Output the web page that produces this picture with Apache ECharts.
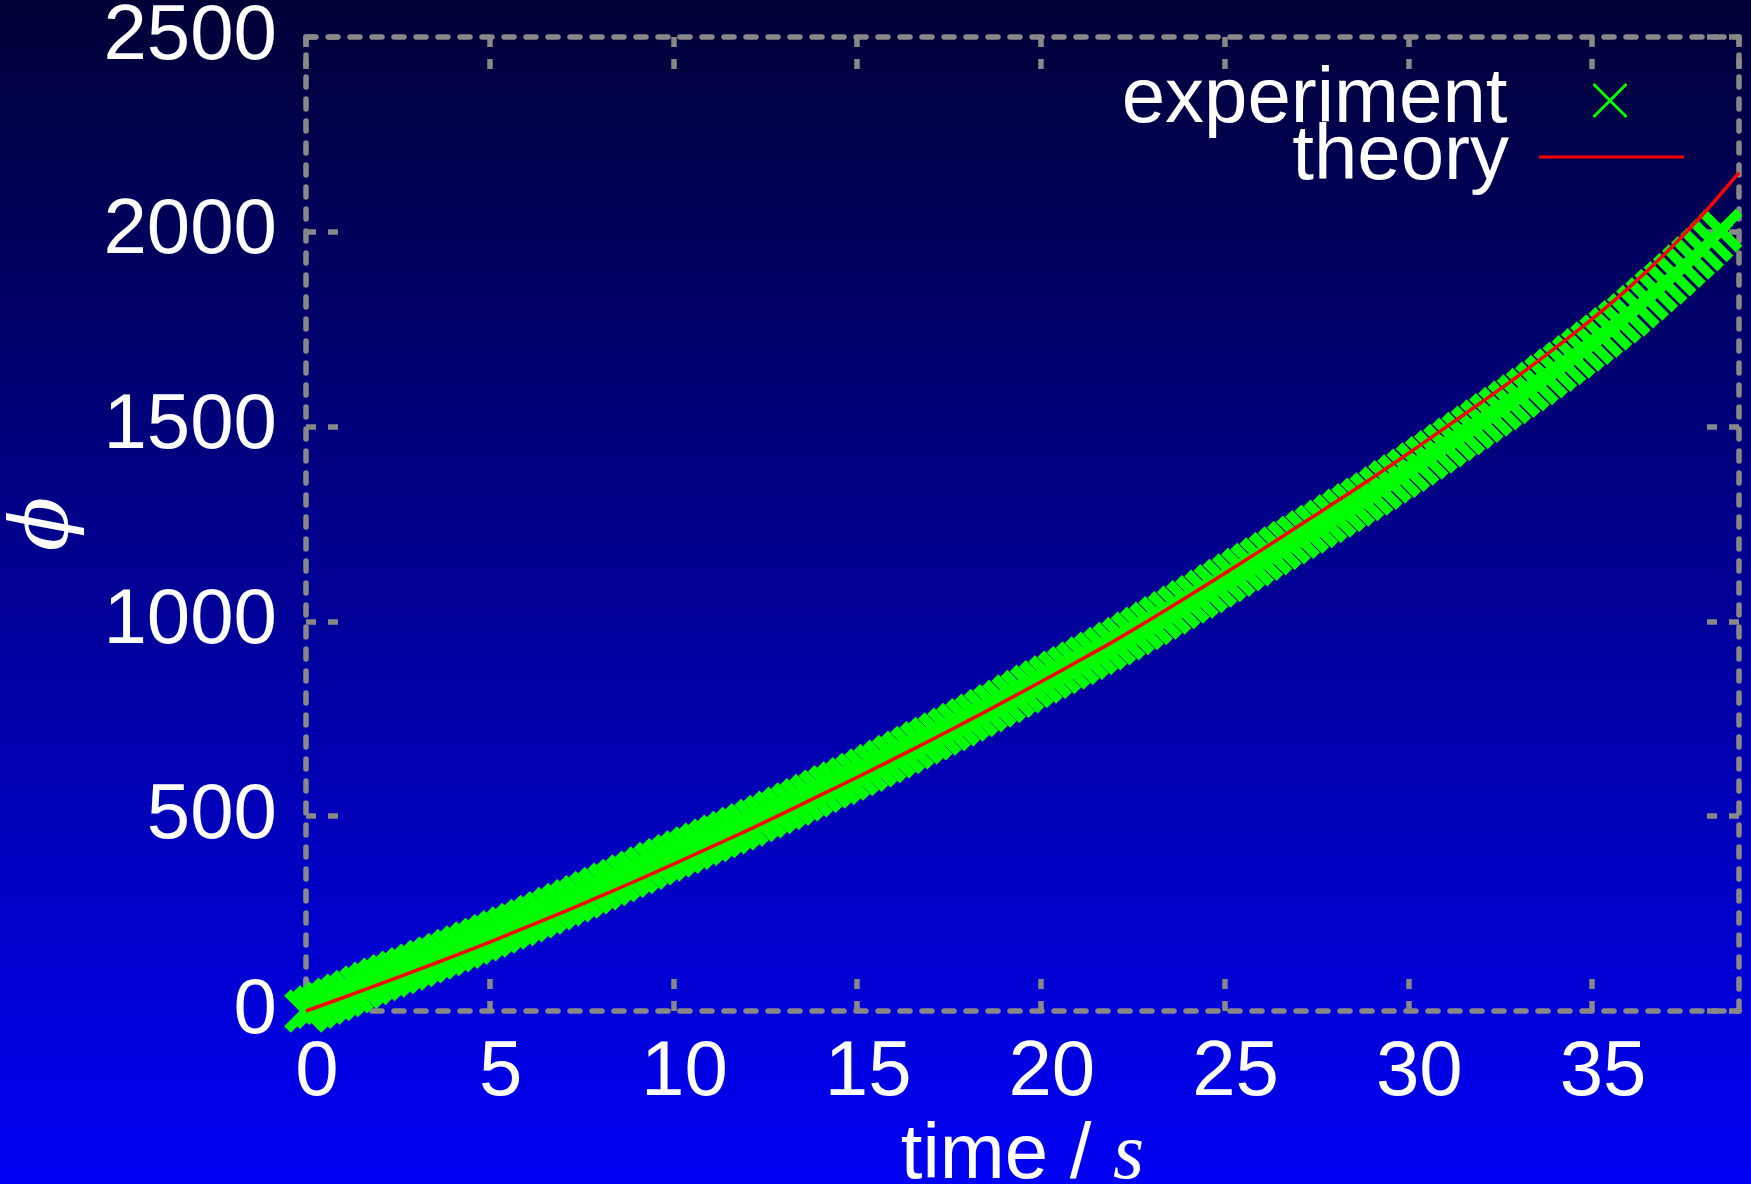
<!DOCTYPE html>
<html>
<head>
<meta charset="utf-8">
<style>
html,body{margin:0;padding:0;background:#000080;}
#chart{width:1751px;height:1184px;}
</style>
<script src="https://cdn.jsdelivr.net/npm/echarts@6/dist/echarts.min.js"></script>
</head>
<body>
<div id="chart"></div>
<script>
// ---- data ----
const xTicks = [0, 5, 10, 15, 20, 25, 30, 35];
const yTicks = [0, 500, 1000, 1500, 2000, 2500];

const theoryTime = [0,1,2,3,4,5,6,7,8,9,10,11,12,13,14,15,16,17,18,19,20,21,22,23,24,25,26,27,28,29,30,31,32,33,34,35,36,37,38,39];
const theoryPhi  = [0,34,69,104,140,177,215,254,294,335,377,420,463,508,554,600,647,695,744,794,845,897,950,1006,1064,1123,1183,1244,1305,1367,1431,1497,1563,1631,1702,1776,1856,1945,2043,2152];

const experimentTime = [
0,0.25,0.5,0.75,1,1.25,1.5,1.75,2,2.25,2.5,2.75,3,3.25,3.5,3.75,4,4.25,4.5,4.75,
5,5.25,5.5,5.75,6,6.25,6.5,6.75,7,7.25,7.5,7.75,8,8.25,8.5,8.75,9,9.25,9.5,9.75,
10,10.25,10.5,10.75,11,11.25,11.5,11.75,12,12.25,12.5,12.75,13,13.25,13.5,13.75,14,14.25,14.5,14.75,
15,15.25,15.5,15.75,16,16.25,16.5,16.75,17,17.25,17.5,17.75,18,18.25,18.5,18.75,19,19.25,19.5,19.75,
20,20.25,20.5,20.75,21,21.25,21.5,21.75,22,22.25,22.5,22.75,23,23.25,23.5,23.75,24,24.25,24.5,24.75,
25,25.25,25.5,25.75,26,26.25,26.5,26.75,27,27.25,27.5,27.75,28,28.25,28.5,28.75,29,29.25,29.5,29.75,
30,30.25,30.5,30.75,31,31.25,31.5,31.75,32,32.25,32.5,32.75,33,33.25,33.5,33.75,34,34.25,34.5,34.75,
35,35.25,35.5,35.75,36,36.25,36.5,36.75,37,37.25,37.5,37.75,38,38.25,38.5];
const experimentPhi = [
0,10,20,30,40,50,61,71,81,90,99,108,117,127,136,145,155,164,174,183,
193,203,213,222,232,242,252,263,273,283,293,304,314,325,335,346,356,367,378,388,
398,408,418,428,438,448,458,468,478,489,499,510,520,531,542,553,564,575,585,596,
607,618,630,641,653,664,676,688,699,711,723,735,747,759,771,783,795,808,820,833,
845,857,869,881,893,906,918,930,943,956,969,982,995,1009,1022,1036,1050,1063,1077,1091,
1105,1119,1133,1146,1160,1174,1188,1202,1216,1230,1244,1257,1271,1285,1299,1313,1327,1342,1358,1373,
1388,1404,1420,1435,1451,1467,1482,1498,1514,1530,1546,1562,1578,1595,1611,1628,1645,1662,1679,1697,
1714,1732,1751,1769,1787,1808,1828,1849,1869,1890,1912,1933,1954,1978,2003];

// ---- chart ----
const SANS = "'Liberation Sans', Arial, Helvetica, sans-serif";
const SERIF = "'Liberation Serif', 'DejaVu Serif', serif";
const FRAME = '#888888';
const CROSS = 'path://M0,0L10,10M10,0L0,10';
const BAR = 'path://M0,0L145,0L145,3L0,3Z';

const frameLine = {show: true, onZero: false, lineStyle: {color: FRAME, width: 5.5, type: [10, 12]}};
const frameTick = {show: true, inside: true, length: 34, lineStyle: {color: FRAME, width: 5.5, type: [10, 12]}};

const legendBase = {
  orient: 'vertical', padding: 0, align: 'right',
  itemWidth: 145, itemHeight: 33, itemGap: 0,
  textStyle: {color: '#ffffff', fontSize: 78, fontFamily: SANS, padding: [0, 25, 16, 0]}
};

const chart = echarts.init(document.getElementById('chart'), null, {renderer: 'canvas'});
chart.setOption({
  animation: false,
  backgroundColor: {
    type: 'linear', x: 0, y: 0, x2: 0, y2: 1,
    colorStops: [{offset: 0, color: '#000036'}, {offset: 1, color: '#0000f4'}]
  },
  grid: {left: 306, right: 12, top: 37, bottom: 173, containLabel: false, outerBoundsMode: 'none'},
  legend: [
    Object.assign({}, legendBase, {
      right: 123, top: 61.5,
      data: [{name: 'experiment', icon: CROSS, itemStyle: {color: 'rgba(0,0,0,0)', borderColor: '#00ff00', borderWidth: 3}}]
    }),
    Object.assign({}, legendBase, {
      right: 67, top: 118,
      data: [{name: 'theory', icon: BAR, itemStyle: {color: '#ff0000', borderWidth: 0}}]
    })
  ],
  xAxis: [
    {
      type: 'value', position: 'bottom', min: 0, max: 39, interval: 5,
      axisLine: frameLine, axisTick: frameTick, splitLine: {show: false},
      axisLabel: {color: '#ffffff', fontSize: 78, fontFamily: SANS, margin: 23, padding: [0, 0, 0, 22],
        showMaxLabel: false, formatter: v => (xTicks.indexOf(v) >= 0 ? String(v) : '')},
      name: 'time / {s|s}', nameLocation: 'middle', nameGap: 101,
      nameTextStyle: {color: '#ffffff', fontSize: 78, fontFamily: SANS,
        rich: {s: {color: '#ffffff', fontSize: 80, fontFamily: SERIF, fontStyle: 'italic'}}}
    },
    {
      type: 'value', position: 'top', min: 0, max: 39, interval: 5,
      axisLine: frameLine, axisTick: frameTick, splitLine: {show: false}, axisLabel: {show: false}
    }
  ],
  yAxis: [
    {
      type: 'value', position: 'left', min: 0, max: 2500, interval: 500,
      axisLine: frameLine, axisTick: frameTick, splitLine: {show: false},
      axisLabel: {color: '#ffffff', fontSize: 78, fontFamily: SANS, margin: 29, padding: [10, 0, 0, 0],
        formatter: v => (yTicks.indexOf(v) >= 0 ? String(v) : '')},
      name: '\u03d5', nameLocation: 'middle', nameRotate: 90, nameGap: 220,
      nameTextStyle: {color: '#ffffff', fontSize: 80, fontFamily: "'DejaVu Serif', serif", fontStyle: 'italic'}
    },
    {
      type: 'value', position: 'right', min: 0, max: 2500, interval: 500,
      axisLine: frameLine, axisTick: frameTick, splitLine: {show: false}, axisLabel: {show: false}
    }
  ],
  series: [
    {
      name: 'experiment', type: 'scatter', xAxisIndex: 0, yAxisIndex: 0,
      symbol: CROSS, symbolSize: 37, clip: false,
      itemStyle: {color: 'rgba(0,0,0,0)', borderColor: '#00ff00', borderWidth: 9.5, opacity: 1},
      emphasis: {disabled: true},
      data: experimentTime.map((t, i) => [t, experimentPhi[i]])
    },
    {
      name: 'theory', type: 'line', xAxisIndex: 0, yAxisIndex: 0,
      symbol: 'none', smooth: 0.3, clip: false,
      lineStyle: {color: '#ff0000', width: 3.5},
      itemStyle: {color: '#ff0000'},
      emphasis: {disabled: true},
      data: theoryTime.map((t, i) => [t, theoryPhi[i]])
    }
  ]
});
</script>
</body>
</html>
